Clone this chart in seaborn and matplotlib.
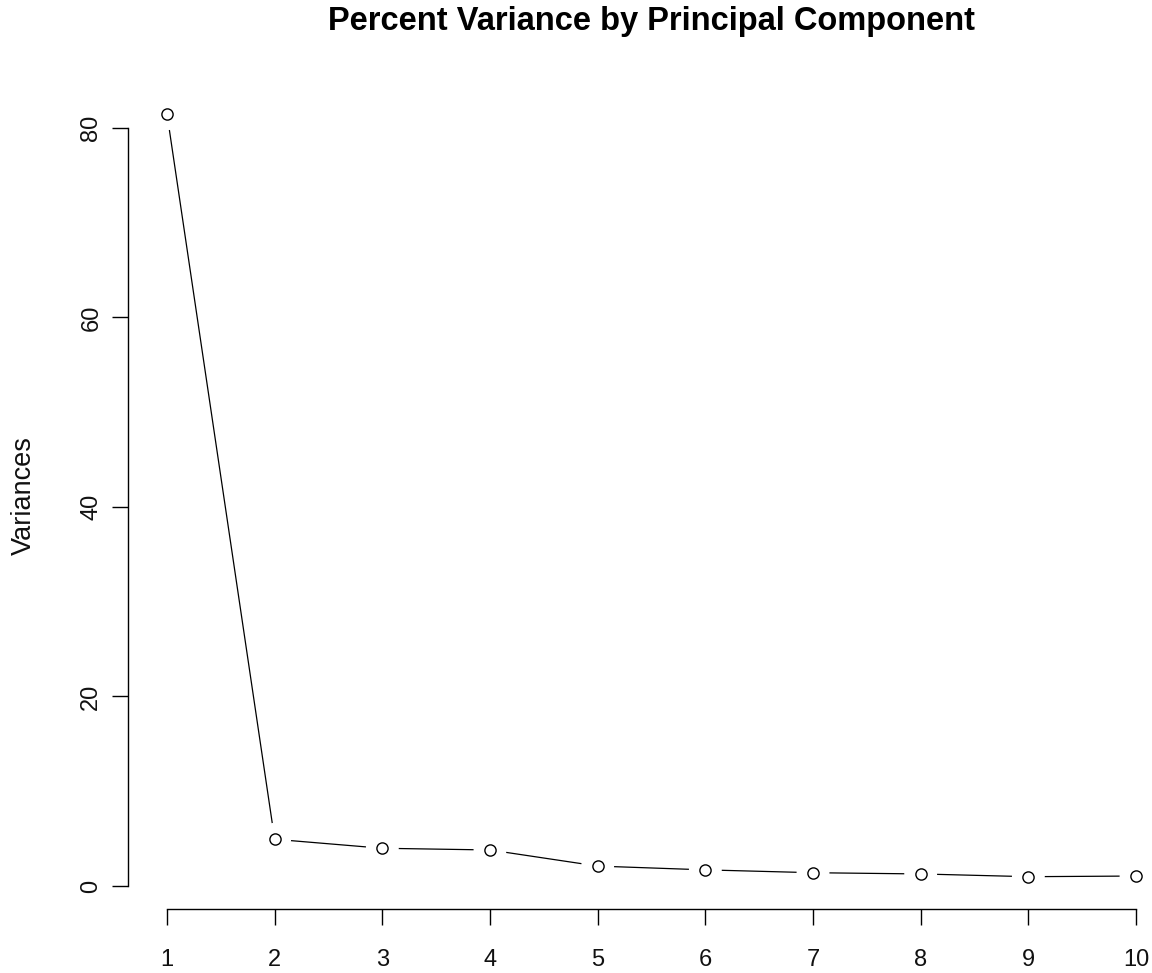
import matplotlib
matplotlib.use("Agg")
import matplotlib.pyplot as plt
import seaborn as sns

# Scree plot values
components = [1, 2, 3, 4, 5, 6, 7, 8, 9, 10]
variances = [81.5, 4.93, 3.98, 3.8, 2.1, 1.7, 1.4, 1.27, 0.98, 1.05]
y_ticks = [0, 20, 40, 60, 80]
title = "Percent Variance by Principal Component"
y_label = "Variances"

sns.set_style("white")
plt.rcParams["font.family"] = ["Liberation Sans", "DejaVu Sans"]

fig = plt.figure(figsize=(11.52, 9.73), dpi=100)
ax = fig.add_axes([128 / 1152, 64 / 973, 1047 / 1152, 826 / 973])

# Line first, then white discs to open gaps around points (like R type="b")
sns.lineplot(x=components, y=variances, ax=ax, color="black", linewidth=0.9)
sns.scatterplot(x=components, y=variances, ax=ax, s=560, color="white",
                edgecolor="none", linewidth=0, zorder=3)
sns.scatterplot(x=components, y=variances, ax=ax, s=65, facecolor="white",
                edgecolor="black", linewidth=1.0, zorder=4)

ax.set_xlim(0.638, 10.362)
ax.set_ylim(-2.43, 84.75)

ax.set_xticks(components)
ax.set_yticks(y_ticks)
ax.set_yticklabels([str(t) for t in y_ticks], rotation=90, va="center")

# R-like detached axes
for side in ["top", "right"]:
    ax.spines[side].set_visible(False)
ax.spines["left"].set_bounds(0, 80)
ax.spines["bottom"].set_bounds(1, 10)
for side in ["left", "bottom"]:
    ax.spines[side].set_color("black")
    ax.spines[side].set_linewidth(1.0)

ax.tick_params(axis="both", direction="out", length=11.5, width=1.0,
               color="black", labelsize=17, labelcolor="#111111",
               bottom=True, left=True)
ax.tick_params(axis="x", pad=17)
ax.tick_params(axis="y", pad=7)

ax.set_xlabel("")
ax.set_ylabel(y_label, fontsize=19.5, color="#111111")
ax.yaxis.set_label_coords(-0.087, 0.5)

ax.set_title(title, fontsize=23.5, fontweight="bold", color="black",
             y=1.074, va="center", pad=0)

fig.savefig("out.png", dpi=100)
